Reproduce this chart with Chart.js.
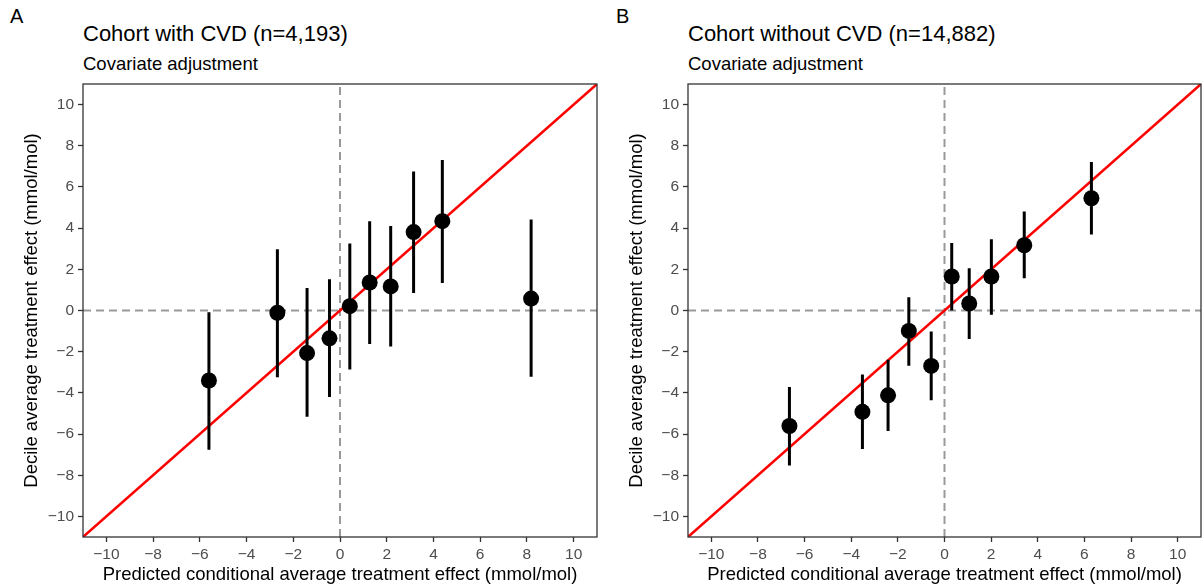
<!DOCTYPE html>
<html><head><meta charset="utf-8">
<script src="https://cdn.jsdelivr.net/npm/chart.js@4/dist/chart.umd.min.js"></script>
<style>
body{margin:0;width:1203px;height:588px;position:relative;background:#fff;font-family:"Liberation Sans",Arial,sans-serif;overflow:hidden}
canvas{position:absolute;top:0}
.lbl{position:absolute;color:#000;white-space:nowrap;line-height:1}
</style></head><body>
<div class="lbl" style="left:10px;top:6px;font-size:20px">A</div>
<div class="lbl" style="left:83px;top:23px;font-size:22px">Cohort with CVD (n=4,193)</div>
<div class="lbl" style="left:83px;top:55px;font-size:18.5px">Covariate adjustment</div>
<div class="lbl" style="left:616px;top:6px;font-size:20px">B</div>
<div class="lbl" style="left:688px;top:23px;font-size:22px">Cohort without CVD (n=14,882)</div>
<div class="lbl" style="left:688px;top:55px;font-size:18.5px">Covariate adjustment</div>
<div style="position:absolute;left:0;top:0;width:600px;height:588px"><canvas id="cA"></canvas></div>
<div style="position:absolute;left:605px;top:0;width:598px;height:588px"><canvas id="cB"></canvas></div>
<script>
// Tick values shared by both axes
const tickValues = [-10, -8, -6, -4, -2, 0, 2, 4, 6, 8, 10];

// Panel A: cohort with CVD
const predA = [-5.61, -2.68, -1.41, -0.45, 0.42, 1.27, 2.17, 3.15, 4.38, 8.18];
const obsA  = [-3.40, -0.11, -2.07, -1.35, 0.21, 1.36, 1.17, 3.81, 4.34, 0.58];
const loA   = [-6.76, -3.24, -5.16, -4.20, -2.87, -1.63, -1.75, 0.85, 1.33, -3.22];
const hiA   = [-0.08, 2.98, 1.09, 1.52, 3.25, 4.34, 4.10, 6.75, 7.31, 4.42];

// Panel B: cohort without CVD
const predB = [-6.65, -3.52, -2.42, -1.53, -0.57, 0.31, 1.06, 2.01, 3.42, 6.30];
const obsB  = [-5.61, -4.92, -4.12, -0.99, -2.69, 1.65, 0.34, 1.65, 3.17, 5.45];
const loB   = [-7.53, -6.73, -5.85, -2.68, -4.36, 0.00, -1.39, -0.21, 1.57, 3.69];
const hiB   = [-3.72, -3.11, -2.39, 0.64, -1.02, 3.28, 2.05, 3.46, 4.81, 7.21];

const axisMin = -11, axisMax = 11;
const FONT = '"Liberation Sans", Arial, sans-serif';
const fmt = v => (v < 0 ? '\u2212' + Math.abs(v) : String(v));

const borderPlugin = {
  id: 'panelBorder',
  afterDraw(chart) {
    const {ctx, chartArea: a} = chart;
    ctx.save();
    ctx.strokeStyle = '#333';
    ctx.lineWidth = 1.3;
    ctx.strokeRect(a.left, a.top, a.right - a.left, a.bottom - a.top);
    ctx.restore();
  }
};

function makeChart(id, pred, obs, lo, hi, padRight) {
  const errData = [];
  pred.forEach((x, i) => {
    errData.push({x: x, y: lo[i]}, {x: x, y: hi[i]}, {x: x, y: null});
  });
  const gridCfg = {drawOnChartArea: false, drawTicks: true, tickLength: 5, tickColor: '#333', tickWidth: 1.3};
  new Chart(document.getElementById(id), {
    type: 'scatter',
    data: {datasets: [
      {type: 'scatter', data: pred.map((x, i) => ({x: x, y: obs[i]})), backgroundColor: '#000', borderWidth: 0, pointRadius: 8, pointHoverRadius: 8, order: 0},
      {type: 'line', data: errData, borderColor: '#000', borderWidth: 3, pointRadius: 0, spanGaps: false, order: 1},
      {type: 'line', data: [{x: axisMin, y: axisMin}, {x: axisMax, y: axisMax}], borderColor: '#ff0000', borderWidth: 2.5, pointRadius: 0, order: 2},
      {type: 'line', data: [{x: axisMin, y: 0}, {x: axisMax, y: 0}], borderColor: '#999', borderWidth: 2, borderDash: [8, 5], pointRadius: 0, order: 3},
      {type: 'line', data: [{x: 0, y: axisMin}, {x: 0, y: axisMax}], borderColor: '#999', borderWidth: 2, borderDash: [8, 5], pointRadius: 0, order: 3}
    ]},
    options: {
      responsive: true, maintainAspectRatio: false, animation: false,
      layout: {autoPadding: false, padding: {top: 84, right: padRight, bottom: 0, left: 0}},
      plugins: {legend: {display: false}, tooltip: {enabled: false}},
      events: [],
      scales: {
        x: {
          type: 'linear', min: axisMin, max: axisMax,
          afterBuildTicks: s => { s.ticks = tickValues.map(v => ({value: v})); },
          afterFit: s => { s.height = 51; s.paddingLeft = 0; s.paddingRight = 0; },
          ticks: {callback: v => fmt(v), color: '#4d4d4d', font: {family: FONT, size: 15.5}, padding: 3, maxRotation: 0, autoSkip: false},
          grid: gridCfg,
          border: {display: false},
          title: {display: true, text: 'Predicted conditional average treatment effect (mmol/mol)', color: '#000', font: {family: FONT, size: 18.5}, padding: {top: 0, bottom: 2}}
        },
        y: {
          type: 'linear', min: axisMin, max: axisMax,
          afterBuildTicks: s => { s.ticks = tickValues.map(v => ({value: v})); },
          afterFit: s => { s.width = 83; s.paddingTop = 0; s.paddingBottom = 0; },
          ticks: {callback: v => fmt(v), color: '#4d4d4d', font: {family: FONT, size: 15.5}, padding: 4, autoSkip: false},
          grid: gridCfg,
          border: {display: false},
          title: {display: true, text: 'Decile average treatment effect (mmol/mol)', color: '#000', font: {family: FONT, size: 18.5}, padding: {top: 21, bottom: 0}}
        }
      }
    },
    plugins: [borderPlugin]
  });
}

makeChart('cA', predA, obsA, loA, hiA, 3);
makeChart('cB', predB, obsB, loB, hiB, 2);
</script>
</body></html>
